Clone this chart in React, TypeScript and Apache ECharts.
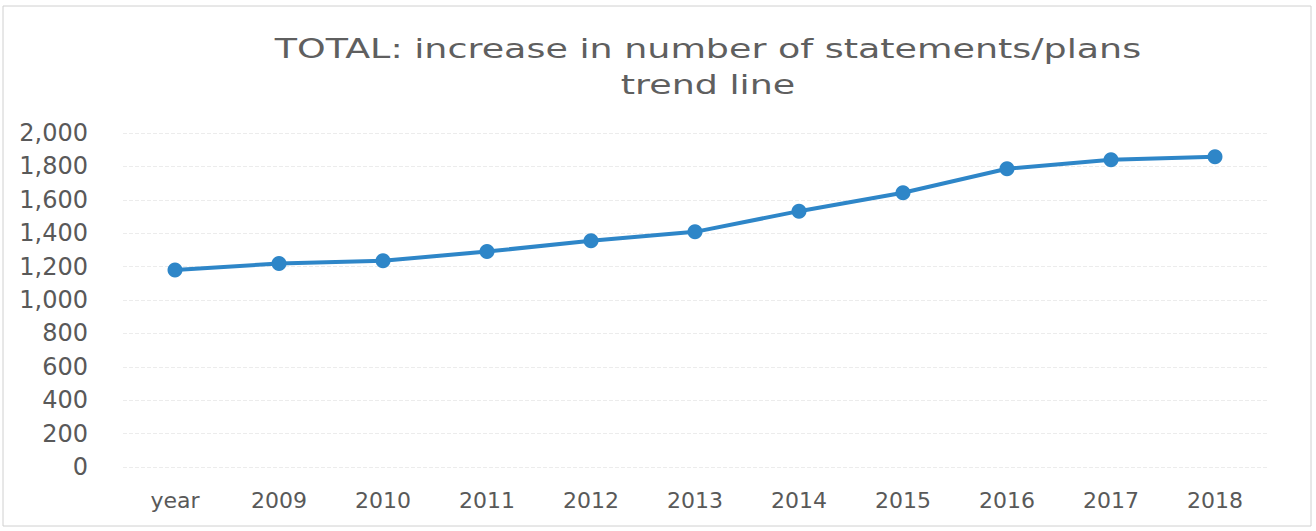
import React, { useEffect, useRef } from "react";
import * as echarts from "echarts";

const categories = ["year", "2009", "2010", "2011", "2012", "2013", "2014", "2015", "2016", "2017", "2018"];
const totals = [1180, 1218, 1235, 1290, 1355, 1408, 1532, 1642, 1786, 1840, 1858];
const titleLines = ["TOTAL: increase in number of statements/plans", "trend line"];

export default function App() {
  const ref = useRef<HTMLDivElement>(null);
  useEffect(() => {
    const chart = echarts.init(ref.current!, null, { renderer: "svg" });
    chart.setOption({
      animation: false,
      backgroundColor: "#ffffff",
      graphic: [
        {
          type: "rect",
          shape: { x: 3, y: 6, width: 1308, height: 520 },
          style: { fill: "none", stroke: "#d0d0d0", lineWidth: 1 },
          silent: true,
        },
        ...titleLines.map((t, i) => ({
          type: "text",
          x: 708,
          y: 49 + i * 36,
          scaleX: 1.35,
          silent: true,
          style: {
            text: t,
            textAlign: "center",
            textVerticalAlign: "middle",
            fontFamily: "DejaVu Sans",
            fontSize: 27,
            fill: "#5f5f5f",
          },
        })),
      ],
      grid: { left: 123, right: 49, top: 133, bottom: 64 },
      xAxis: {
        type: "category",
        data: categories,
        boundaryGap: true,
        axisLine: { show: false },
        axisTick: { show: false },
        axisLabel: {
          margin: 22,
          fontFamily: "DejaVu Sans",
          fontSize: 22,
          color: "#595959",
        },
      },
      yAxis: {
        type: "value",
        min: 0,
        max: 2000,
        interval: 200,
        axisLine: { show: false },
        axisTick: { show: false },
        axisLabel: {
          margin: 35,
          fontFamily: "DejaVu Sans",
          fontSize: 24,
          color: "#595959",
          formatter: (v: number) => v.toLocaleString("en-US"),
        },
        splitLine: { lineStyle: { color: "#ececec", type: "dashed", width: 1 } },
      },
      series: [
        {
          type: "line",
          data: totals,
          symbol: "circle",
          symbolSize: 15,
          lineStyle: { color: "#2e86c8", width: 4 },
          itemStyle: { color: "#2e86c8" },
        },
      ],
    });
    return () => chart.dispose();
  }, []);
  return (
    <div
      ref={ref}
      style={{ position: "fixed", left: 0, top: 0, width: 1316, height: 531 }}
    />
  );
}
